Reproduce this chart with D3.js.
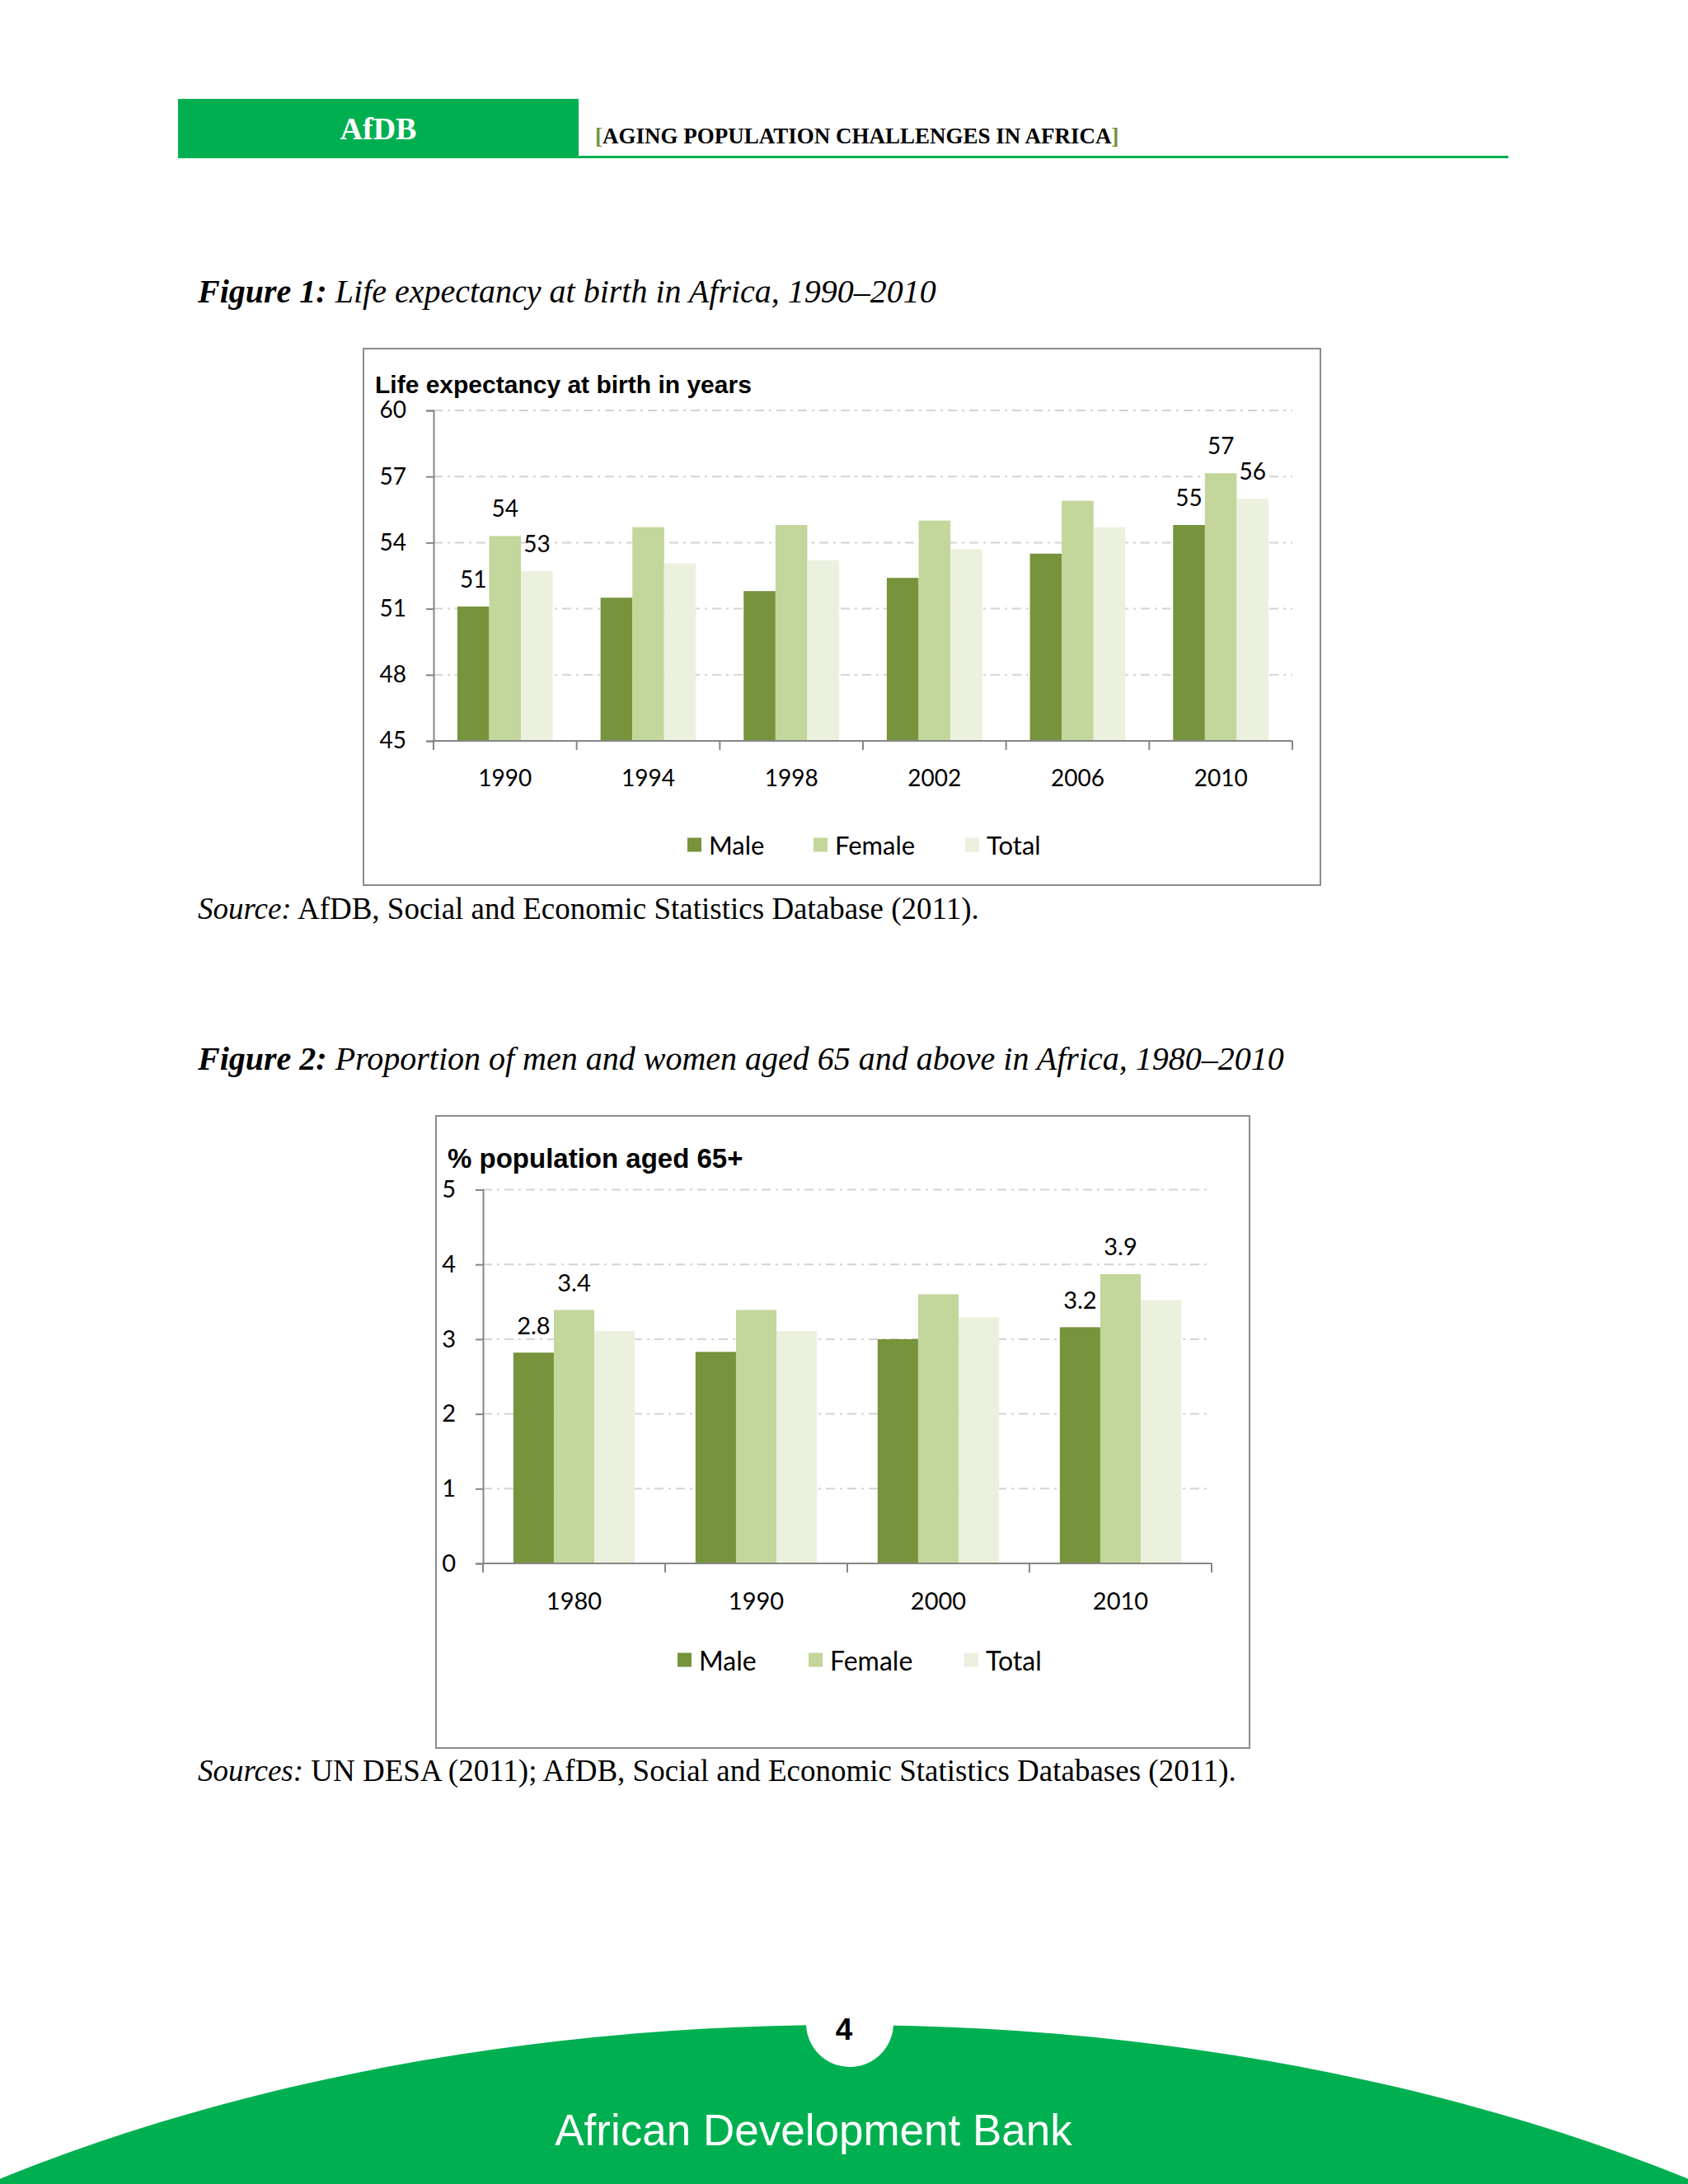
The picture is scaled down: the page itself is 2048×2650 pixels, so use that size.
<!DOCTYPE html>
<html>
<head>
<meta charset="utf-8">
<script src="https://cdn.jsdelivr.net/npm/d3@7"></script>
<style>
html,body{margin:0;padding:0;background:#fff;}
svg{display:block;}
</style>
</head>
<body>
<script>
// ---------- DATA ----------
const seriesNames = ["Male", "Female", "Total"];

const fig1Categories = ["1990", "1994", "1998", "2002", "2006", "2010"];
const fig1Male   = [51.1, 51.5, 51.8, 52.4, 53.5, 54.8];
const fig1Female = [54.3, 54.7, 54.8, 55.0, 55.9, 57.15];
const fig1Total  = [52.7, 53.05, 53.2, 53.7, 54.7, 56.0];
const fig1YTicks = [45, 48, 51, 54, 57, 60];
const fig1LabelCats = ["1990", "2010"];
const fig1LabelSeries = ["Male", "Female", "Total"];

const fig2Categories = ["1980", "1990", "2000", "2010"];
const fig2Male   = [2.82, 2.83, 3.0, 3.16];
const fig2Female = [3.39, 3.39, 3.6, 3.87];
const fig2Total  = [3.11, 3.11, 3.29, 3.52];
const fig2YTicks = [0, 1, 2, 3, 4, 5];
const fig2LabelCats = ["1980", "2010"];
const fig2LabelSeries = ["Male", "Female"];

// ---------- STYLE ----------
const W = 2048, H = 2650;
const colors = {Male: "#77933C", Female: "#C3D69B", Total: "#EBF1DE"};
const green = "#00B050";
const serif = "'Liberation Serif','Times New Roman',serif";
const sans = "'Liberation Sans',Arial,sans-serif";
const chartFont = "Lato,'Open Sans',sans-serif";

const svg = d3.select("body").append("svg").attr("width", W).attr("height", H);
svg.append("rect").attr("width", W).attr("height", H).attr("fill", "#fff");

// ---------- HEADER ----------
svg.append("rect").attr("x", 216).attr("y", 120).attr("width", 486).attr("height", 70).attr("fill", green);
svg.append("line").attr("x1", 216).attr("x2", 1830).attr("y1", 190.5).attr("y2", 190.5)
  .attr("stroke", green).attr("stroke-width", 3);
svg.append("text").attr("x", 459).attr("y", 169).attr("text-anchor", "middle")
  .attr("font-family", serif).attr("font-weight", "bold").attr("font-size", 38).attr("fill", "#fff").text("AfDB");
const ht = svg.append("text").attr("x", 722).attr("y", 174)
  .attr("font-family", serif).attr("font-weight", "bold").attr("font-size", 27).attr("fill", "#000");
ht.append("tspan").attr("fill", "#76923C").text("[");
ht.append("tspan").text("AGING POPULATION CHALLENGES IN AFRICA");
ht.append("tspan").attr("fill", "#76923C").text("]");

// ---------- CAPTIONS ----------
function caption(x, y, boldPart, rest, size) {
  const t = svg.append("text").attr("x", x).attr("y", y).attr("font-family", serif)
    .attr("font-size", size).attr("font-style", "italic").attr("fill", "#000");
  t.append("tspan").attr("font-weight", "bold").text(boldPart);
  t.append("tspan").text(rest);
}
function source(x, y, it, rest, size) {
  const t = svg.append("text").attr("x", x).attr("y", y).attr("font-family", serif)
    .attr("font-size", size).attr("fill", "#000");
  t.append("tspan").attr("font-style", "italic").text(it);
  t.append("tspan").text(rest);
}
caption(240, 367, "Figure 1: ", "Life expectancy at birth in Africa, 1990–2010", 40);
source(240, 1115, "Source:", " AfDB, Social and Economic Statistics Database (2011).", 37);
caption(240, 1298, "Figure 2: ", "Proportion of men and women aged 65 and above in Africa, 1980–2010", 40);
source(240, 2161, "Sources:", " UN DESA (2011); AfDB, Social and Economic Statistics Databases (2011).", 37);

// ---------- CHART FUNCTION ----------
function drawChart(cfg) {
  const g = svg.append("g");
  g.append("rect").attr("x", cfg.box[0]).attr("y", cfg.box[1])
    .attr("width", cfg.box[2] - cfg.box[0]).attr("height", cfg.box[3] - cfg.box[1])
    .attr("fill", "#fff").attr("stroke", "#8c8c8c").attr("stroke-width", 2);

  const x0 = d3.scaleBand().domain(cfg.categories).range([cfg.x0, cfg.x1]).padding(0);
  const x1 = d3.scaleBand().domain(seriesNames).range([0, x0.bandwidth()]).paddingInner(0).paddingOuter(0.75);
  const y = d3.scaleLinear().domain([cfg.yTicks[0], cfg.yTicks[cfg.yTicks.length - 1]]).range([cfg.y0, cfg.y1]);

  // gridlines
  g.append("g").selectAll("line").data(cfg.yTicks.slice(1)).join("line")
    .attr("x1", cfg.x0).attr("x2", cfg.x1)
    .attr("y1", d => y(d)).attr("y2", d => y(d))
    .attr("stroke", "#d4d4d4").attr("stroke-width", 2).attr("stroke-dasharray", "11,6,3,6");

  // bars
  const rows = cfg.categories.map((c, i) => ({cat: c, vals: {Male: cfg.male[i], Female: cfg.female[i], Total: cfg.total[i]}}));
  const grp = g.append("g").selectAll("g").data(rows).join("g")
    .attr("transform", d => `translate(${x0(d.cat)},0)`);
  grp.selectAll("rect").data(d => seriesNames.map(s => ({s, v: d.vals[s], cat: d.cat}))).join("rect")
    .attr("x", d => x1(d.s)).attr("width", x1.bandwidth())
    .attr("y", d => y(d.v)).attr("height", d => y(cfg.yTicks[0]) - y(d.v))
    .attr("fill", d => colors[d.s]);
  grp.selectAll("text").data(d => seriesNames.map(s => ({s, v: d.vals[s], cat: d.cat}))
      .filter(e => cfg.labelCats.includes(e.cat) && cfg.labelSeries.includes(e.s))).join("text")
    .attr("x", d => x1(d.s) + x1.bandwidth() / 2).attr("y", d => y(d.v) - 34)
    .attr("text-anchor", "middle").attr("dominant-baseline", "central")
    .attr("font-family", chartFont).attr("font-size", cfg.fs).attr("fill", "#000")
    .text(d => cfg.fmt(d.v));

  // y axis
  const ya = g.append("g").attr("transform", `translate(${cfg.x0},0)`)
    .call(d3.axisLeft(y).tickValues(cfg.yTicks).tickSize(9).tickPadding(24).tickFormat(d3.format("d")));
  ya.select(".domain").attr("stroke", "#868686").attr("stroke-width", 2);
  ya.selectAll(".tick line").attr("stroke", "#868686").attr("stroke-width", 2);
  ya.selectAll(".tick text").attr("font-family", chartFont).attr("font-size", cfg.fs).attr("fill", "#000");

  // x axis
  const xa = g.append("g").attr("transform", `translate(0,${cfg.y0})`);
  xa.append("line").attr("x1", cfg.x0).attr("x2", cfg.x1).attr("stroke", "#868686").attr("stroke-width", 2);
  const bounds = cfg.categories.map(c => x0(c)).concat([x0(cfg.categories[cfg.categories.length - 1]) + x0.bandwidth()]);
  xa.selectAll("line.tk").data(bounds).join("line").attr("class", "tk")
    .attr("x1", d => d).attr("x2", d => d).attr("y1", 0).attr("y2", 11)
    .attr("stroke", "#868686").attr("stroke-width", 2);
  xa.selectAll("text").data(cfg.categories).join("text")
    .attr("x", d => x0(d) + x0.bandwidth() / 2).attr("y", 44)
    .attr("text-anchor", "middle").attr("dominant-baseline", "central")
    .attr("font-family", chartFont).attr("font-size", cfg.fs).attr("fill", "#000").text(d => d);

  // title
  g.append("text").attr("x", cfg.titleX).attr("y", cfg.titleY)
    .attr("font-family", sans).attr("font-weight", "bold").attr("font-size", cfg.titleFs).attr("fill", "#000")
    .text(cfg.title);

  // legend
  const lg = g.append("g").selectAll("g").data(seriesNames).join("g")
    .attr("transform", (d, i) => `translate(${cfg.legendX[i]},${cfg.legendY})`);
  lg.append("rect").attr("x", 0).attr("y", -8.5).attr("width", 17).attr("height", 17).attr("fill", d => colors[d]);
  lg.append("text").attr("x", 26).attr("y", 0).attr("dominant-baseline", "central")
    .attr("font-family", chartFont).attr("font-size", cfg.fs + 3).attr("fill", "#000").text(d => d);
}

drawChart({
  box: [441, 423, 1602, 1074],
  x0: 526, x1: 1568, y0: 899, y1: 498,
  categories: fig1Categories, male: fig1Male, female: fig1Female, total: fig1Total,
  yTicks: fig1YTicks, labelCats: fig1LabelCats, labelSeries: fig1LabelSeries,
  fmt: d3.format(".0f"), fs: 28,
  title: "Life expectancy at birth in years", titleX: 455, titleY: 477, titleFs: 30,
  legendX: [834, 987, 1171], legendY: 1025
});

drawChart({
  box: [529, 1354, 1516, 2121],
  x0: 586, x1: 1470, y0: 1897, y1: 1443.5,
  categories: fig2Categories, male: fig2Male, female: fig2Female, total: fig2Total,
  yTicks: fig2YTicks, labelCats: fig2LabelCats, labelSeries: fig2LabelSeries,
  fmt: d3.format(".1f"), fs: 29,
  title: "% population aged 65+", titleX: 543, titleY: 1417, titleFs: 33,
  legendX: [822, 981, 1170], legendY: 2014
});

// ---------- FOOTER ----------
svg.append("ellipse").attr("cx", 1024).attr("cy", 3457).attr("rx", 1760).attr("ry", 1000).attr("fill", green);
svg.append("ellipse").attr("cx", 1031).attr("cy", 2455).attr("rx", 53).attr("ry", 53).attr("fill", "#fff");
svg.append("text").attr("x", 1024).attr("y", 2475).attr("text-anchor", "middle")
  .attr("font-family", sans).attr("font-weight", "bold").attr("font-size", 37).attr("fill", "#000").text("4");
svg.append("text").attr("x", 987).attr("y", 2603).attr("text-anchor", "middle")
  .attr("font-family", sans).attr("font-size", 53).attr("fill", "#fff").text("African Development Bank");
</script>
</body>
</html>
